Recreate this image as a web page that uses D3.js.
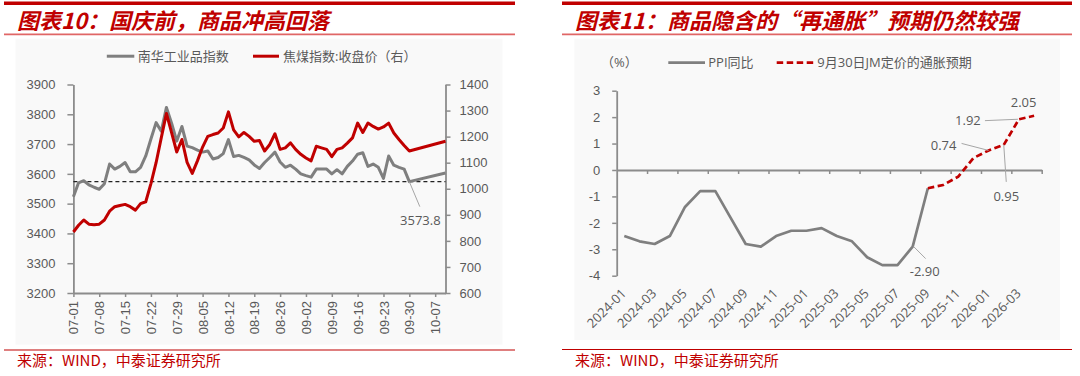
<!DOCTYPE html>
<html>
<head>
<meta charset="utf-8">
<script src="https://cdn.jsdelivr.net/npm/d3@7"></script>
<style>
  body { margin: 0; background: #fff; }
  svg { display: block; font-family: "Open Sans", "Noto Sans CJK SC", sans-serif; }
</style>
</head>
<body>
<svg id="chart" width="1080" height="376"></svg>
<script>
// ---- left chart: weekday categories 2025-07-01 .. 2025-10-09 ----
const days = [
  "07-01","07-02","07-03","07-04","07-07","07-08","07-09","07-10","07-11",
  "07-14","07-15","07-16","07-17","07-18","07-21","07-22","07-23","07-24","07-25",
  "07-28","07-29","07-30","07-31","08-01","08-04","08-05","08-06","08-07","08-08",
  "08-11","08-12","08-13","08-14","08-15","08-18","08-19","08-20","08-21","08-22",
  "08-25","08-26","08-27","08-28","08-29","09-01","09-02","09-03","09-04","09-05",
  "09-08","09-09","09-10","09-11","09-12","09-15","09-16","09-17","09-18","09-19",
  "09-22","09-23","09-24","09-25","09-26","09-29","09-30",
  "10-01","10-02","10-03","10-06","10-07","10-08","10-09"
];
// 南华工业品指数 (left axis)
const nanhua = [
  3523,3570,3577,3563,3555,3548,3567,3633,3616,
  3625,3638,3607,3607,3622,3660,3717,3772,3743,3823,
  3770,3710,3759,3693,3688,3680,3673,3677,3650,3655,
  3668,3715,3658,3662,3655,3647,3630,3618,3638,3655,
  3673,3640,3622,3629,3616,3600,3594,3589,3616,3616,
  3616,3600,3614,3600,3625,3643,3666,3671,3625,3633,
  3622,3585,3660,3629,3622,3616,3573.8,
  null,null,null,null,null,null,3603
];
// 焦煤指数:收盘价 (right axis)
const jiaomei = [
  834,860,880,864,862,864,880,914,931,
  936,940,931,918,943,950,1020,1100,1195,1289,
  1215,1141,1189,1101,1059,1107,1160,1201,1208,1214,
  1233,1295,1226,1199,1216,1201,1182,1185,1145,1170,
  1211,1151,1157,1176,1151,1132,1118,1107,1163,1157,
  1151,1123,1151,1157,1175,1195,1252,1216,1252,1239,
  1229,1237,1252,1214,1189,1166,1145,
  null,null,null,null,null,null,1182
];
const refLevel = 3573.8;
const leftTicks = [3200,3300,3400,3500,3600,3700,3800,3900];
const rightTicks = [600,700,800,900,1000,1100,1200,1300,1400];

// ---- right chart: monthly ----
const months = [
  "2024-01","2024-02","2024-03","2024-04","2024-05","2024-06","2024-07","2024-08",
  "2024-09","2024-10","2024-11","2024-12","2025-01","2025-02","2025-03","2025-04",
  "2025-05","2025-06","2025-07","2025-08","2025-09","2025-10","2025-11","2025-12",
  "2026-01","2026-02","2026-03","2026-04"
];
const ppi = [-2.5,-2.7,-2.8,-2.5,-1.4,-0.8,-0.8,-1.8,-2.8,-2.9,-2.5,-2.3,
             -2.3,-2.2,-2.5,-2.7,-3.3,-3.6,-3.6,-2.9,-0.69];
const ppiExpected = [null,null,null,null,null,null,null,null,null,null,null,null,
                     null,null,null,null,null,null,null,null,
                     -0.69,-0.57,-0.25,0.45,0.74,0.95,1.92,2.05];
const ppiTicks = [-4,-3,-2,-1,0,1,2,3];

const RED = "#c00000", GREY = "#7f7f7f", TXT = "#595959", AX = "#8c8c8c";
const svg = d3.select("#chart");

// ---- frames: title bars, panels, sources ----
function frame(x0, x1, title, bg, footY) {
  svg.append("rect").attr("x", bg[0]).attr("y", bg[1]).attr("width", bg[2]).attr("height", bg[3])
    .attr("fill", "#f9f9f9");
  svg.append("rect").attr("x", x0).attr("y", 1.5).attr("width", x1 - x0).attr("height", 3.5).attr("fill", RED);
  svg.append("line").attr("x1", x0).attr("x2", x1).attr("y1", 34.4).attr("y2", 34.4)
    .attr("stroke", "#e06666").attr("stroke-width", 1.7);
  svg.append("text").attr("x", x0 + 13).attr("y", 29)
    .attr("font-family", "'Noto Sans CJK SC', sans-serif")
    .attr("font-size", 22).attr("font-weight", "bold").attr("font-style", "italic")
    .attr("fill", RED).text(title);
  svg.append("line").attr("x1", x0).attr("x2", x1).attr("y1", footY).attr("y2", footY)
    .attr("stroke", RED).attr("stroke-width", 1.2);
  svg.append("text").attr("x", x0 + 13).attr("y", footY + 16)
    .attr("font-family", "'Noto Sans CJK SC', sans-serif")
    .attr("font-size", 15).attr("fill", RED).text("来源：WIND，中泰证券研究所");
}
frame(4, 515, "图表10：国庆前，商品冲高回落", [15.5, 38.6, 487, 306], 350);
frame(562, 1072, "图表11：商品隐含的“再通胀”预期仍然较强", [574.4, 38.6, 485.6, 301.4], 349.5);

function styleAxis(g, fs) {
  g.select(".domain").attr("stroke", AX).attr("stroke-width", 1.8);
  g.selectAll(".tick line").attr("stroke", AX).attr("stroke-width", 1.5);
  g.selectAll("text").attr("fill", TXT).attr("font-size", fs);
}

// ---- left chart ----
const xL = d3.scalePoint().domain(days).range([73.4, 445.5]);
const yL = d3.scaleLinear().domain([3200, 3900]).range([293, 84.5]);
const yR = d3.scaleLinear().domain([600, 1400]).range([293, 84.5]);
const left = svg.append("g");

left.append("g").attr("transform", "translate(73.4,0)")
  .call(d3.axisLeft(yL).tickValues(leftTicks).tickFormat(d => String(d))
    .tickSize(6).tickSizeOuter(0).tickPadding(12))
  .call(g => styleAxis(g, 13));
left.append("g").attr("transform", "translate(445.5,0)")
  .call(d3.axisRight(yR).tickValues(rightTicks).tickFormat(d => String(d))
    .tickSize(5).tickSizeOuter(0).tickPadding(9))
  .call(g => styleAxis(g, 13));
left.append("g").attr("transform", "translate(0,293)")
  .call(d3.axisBottom(xL).tickValues(days.filter((d, i) => i % 5 === 0)).tickSize(4).tickSizeOuter(0))
  .call(g => styleAxis(g, 13))
  .call(g => g.selectAll("text").attr("transform", "rotate(-90)").attr("text-anchor", "end")
    .attr("x", -8).attr("y", 0).attr("dy", "0.35em"));

left.append("line").attr("x1", xL(days[0])).attr("x2", xL(days[days.length - 1]))
  .attr("y1", yL(refLevel)).attr("y2", yL(refLevel))
  .attr("stroke", "#222").attr("stroke-width", 1.2).attr("stroke-dasharray", "4,3");

const nhPts = days.map((d, i) => ({ d, v: nanhua[i] })).filter(p => p.v != null);
const jmPts = days.map((d, i) => ({ d, v: jiaomei[i] })).filter(p => p.v != null);
left.append("path").datum(nhPts)
  .attr("d", d3.line().x(p => xL(p.d)).y(p => yL(p.v)))
  .attr("fill", "none").attr("stroke", GREY).attr("stroke-width", 3).attr("stroke-linejoin", "round");
left.append("path").datum(jmPts)
  .attr("d", d3.line().x(p => xL(p.d)).y(p => yR(p.v)))
  .attr("fill", "none").attr("stroke", RED).attr("stroke-width", 3).attr("stroke-linejoin", "round");

// data label 3573.8
const lx = xL("09-30"), ly = yL(refLevel);
left.append("line").attr("x1", lx).attr("y1", ly).attr("x2", lx + 10.5).attr("y2", ly + 25)
  .attr("stroke", "#a6a6a6").attr("stroke-width", 1);
left.append("text").attr("x", lx + 11).attr("y", ly + 39).attr("dy", "0.35em")
  .attr("text-anchor", "middle").attr("font-size", 13).attr("fill", TXT).text(String(refLevel));

// legend
const lg = left.append("g").attr("font-size", 13).attr("fill", TXT);
lg.append("line").attr("x1", 106.8).attr("x2", 134.3).attr("y1", 56.2).attr("y2", 56.2)
  .attr("stroke", GREY).attr("stroke-width", 3);
lg.append("text").attr("x", 137.7).attr("y", 56.2).attr("dy", "0.35em").text("南华工业品指数");
lg.append("line").attr("x1", 253).attr("x2", 279).attr("y1", 56.2).attr("y2", 56.2)
  .attr("stroke", RED).attr("stroke-width", 3);
lg.append("text").attr("x", 283).attr("y", 56.2).attr("dy", "0.35em").text("焦煤指数:收盘价（右）");

// ---- right chart ----
const xB = d3.scaleBand().domain(months).range([616.7, 1041.7]);
const cx = m => xB(m) + xB.bandwidth() / 2;
const xIdx = d3.scaleLinear().domain([0, months.length]).range([616.7, 1041.7]);
const yP = d3.scaleLinear().domain([-4, 3]).range([275.7, 90.7]);
const right = svg.append("g");

right.append("g").attr("transform", "translate(616.7,0)")
  .call(d3.axisLeft(yP).tickValues(ppiTicks).tickFormat(d => String(d))
    .tickSize(4.5).tickSizeOuter(0).tickPadding(12))
  .call(g => styleAxis(g, 13));
right.append("g").attr("transform", `translate(0,${yP(0)})`)
  .call(d3.axisBottom(xIdx).tickValues(d3.range(2, months.length + 1, 2)).tickFormat("")
    .tickSize(4).tickSizeOuter(0))
  .call(g => styleAxis(g, 13));

right.append("g").selectAll("text")
  .data(months.filter((m, i) => i % 2 === 0 && i < 27))
  .join("text")
  .attr("transform", m => `translate(${cx(m) - 0.5},291) rotate(-45)`)
  .attr("text-anchor", "end").attr("dy", "0.35em")
  .attr("font-size", 13).attr("fill", TXT).text(m => m);

const ppiPts = ppi.map((v, i) => ({ m: months[i], v }));
const expPts = months.map((m, i) => ({ m, v: ppiExpected[i] })).filter(p => p.v != null);
const lineP = d3.line().x(p => cx(p.m)).y(p => yP(p.v));
right.append("path").datum(ppiPts).attr("d", lineP)
  .attr("fill", "none").attr("stroke", GREY).attr("stroke-width", 2.7).attr("stroke-linejoin", "round");
right.append("path").datum(expPts).attr("d", lineP)
  .attr("fill", "none").attr("stroke", RED).attr("stroke-width", 2.7).attr("stroke-dasharray", "6.5,3.5");

// data labels
function dataLabel(m, v, lead, pos) {
  const px = cx(m), py = yP(v);
  if (lead) right.append("line").attr("x1", px + lead[0]).attr("y1", py + lead[1])
    .attr("x2", px + lead[2]).attr("y2", py + lead[3]).attr("stroke", "#a6a6a6").attr("stroke-width", 1);
  right.append("text").attr("x", px + pos[0]).attr("y", py + pos[1]).attr("dy", "0.35em")
    .attr("text-anchor", "middle").attr("font-size", 13).attr("fill", TXT).text(v.toFixed(2));
}
dataLabel(months[19], ppi[19], [1, 0, 13, 12], [12, 25]);
dataLabel(months[24], ppiExpected[24], [0, 0, -27, -7], [-45, -5]);
dataLabel(months[25], ppiExpected[25], [0, 0, 2.5, 37], [2.5, 52]);
dataLabel(months[26], ppiExpected[26], [-1, 0, -34, 1.4], [-51, 1.7]);
dataLabel(months[27], ppiExpected[27], null, [-10.5, -13.5]);

// legend
const rg = right.append("g").attr("font-size", 13).attr("fill", TXT);
rg.append("text").attr("x", 601).attr("y", 62.7).attr("dy", "0.35em").text("（%）");
rg.append("line").attr("x1", 668.3).attr("x2", 705).attr("y1", 62.7).attr("y2", 62.7)
  .attr("stroke", GREY).attr("stroke-width", 2.7);
rg.append("text").attr("x", 708.3).attr("y", 62.7).attr("dy", "0.35em").text("PPI同比");
rg.append("line").attr("x1", 776.7).attr("x2", 813.3).attr("y1", 62.7).attr("y2", 62.7)
  .attr("stroke", RED).attr("stroke-width", 2.7).attr("stroke-dasharray", "6.5,3.5");
rg.append("text").attr("x", 817.3).attr("y", 62.7).attr("dy", "0.35em").text("9月30日JM定价的通胀预期");
</script>
</body>
</html>
